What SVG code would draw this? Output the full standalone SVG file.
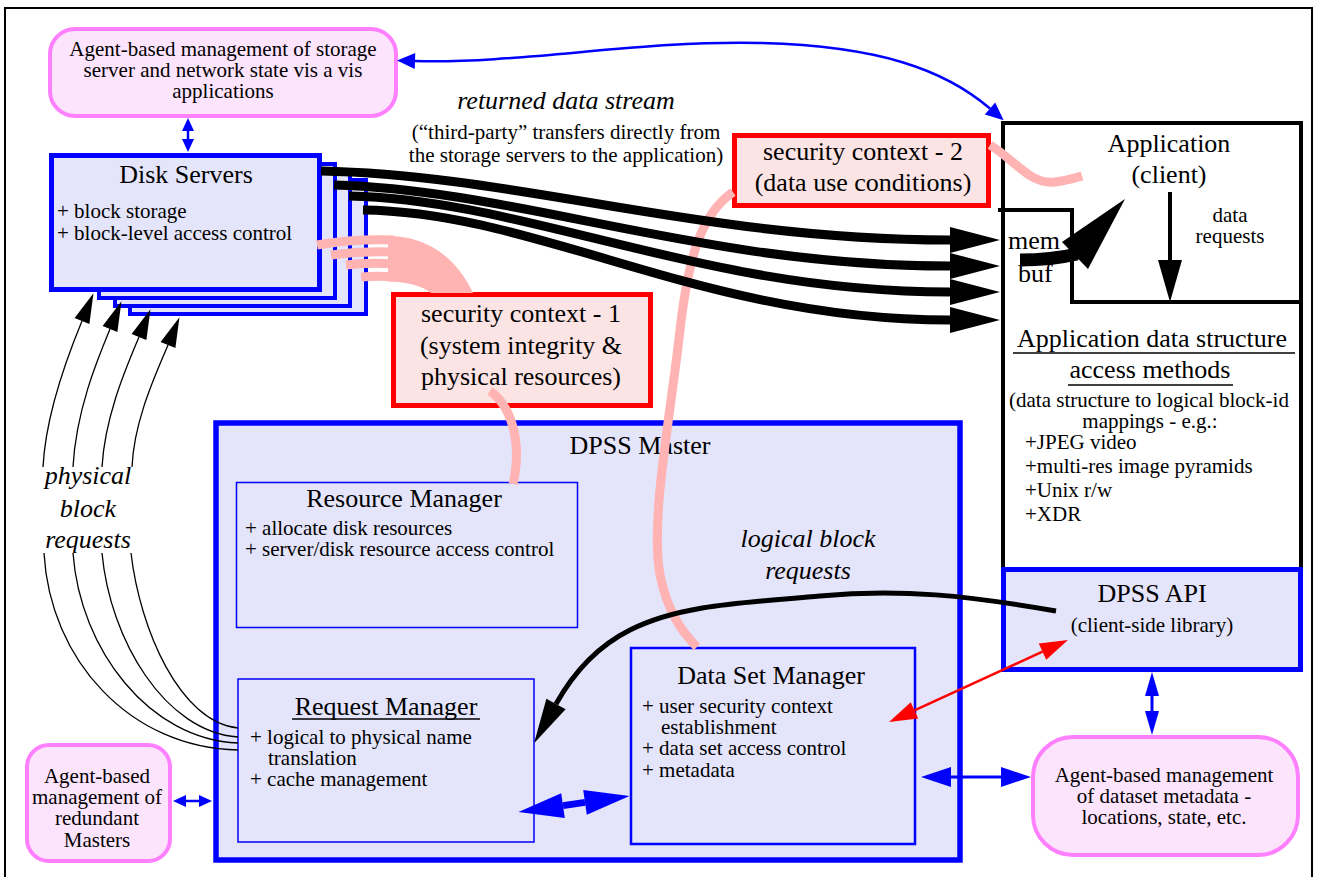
<svg xmlns="http://www.w3.org/2000/svg" width="1319" height="877" viewBox="0 0 1319 877" font-family="Liberation Serif, Times New Roman, serif">
  <style>
    text { fill: #000; }
    .t21 { font-size: 21px; }
    .t26 { font-size: 26px; }
    .it { font-style: italic; }
    .mid { text-anchor: middle; }
    .agent { fill: #fde4fd; stroke: #ff80ff; stroke-width: 4; }
    .blueBox { fill: #e4e4fb; stroke: #0000ff; }
    .redBox { fill: #fde4e4; stroke: #ff0000; stroke-width: 5; }
    .pink { fill: none; stroke: #ffb3b3; stroke-width: 9; stroke-linecap: butt; }
    .pinkFill { fill: #ffb3b3; stroke: none; }
    .stream { fill: none; stroke: #000; stroke-width: 9; }
    .thin { fill: none; stroke: #000; stroke-width: 1.3; }
    .uline { stroke: #000; stroke-width: 1.3; }
  </style>
  <defs>
    <marker id="hStream" markerUnits="userSpaceOnUse" orient="auto" refX="0" refY="0" markerWidth="60" markerHeight="30" overflow="visible">
      <path d="M0,-13 L50,0 L0,13 z" fill="#000"/>
    </marker>
    <marker id="hThin" markerUnits="userSpaceOnUse" orient="auto" refX="0" refY="0" markerWidth="40" markerHeight="20" overflow="visible">
      <path d="M0,-8 L30,0 L0,8 z" fill="#000"/>
    </marker>
    <marker id="hApi" markerUnits="userSpaceOnUse" orient="auto" refX="0" refY="0" markerWidth="50" markerHeight="30" overflow="visible">
      <path d="M0,-11 L45,0 L0,11 z" fill="#000"/>
    </marker>
    <marker id="hRed" markerUnits="userSpaceOnUse" orient="auto-start-reverse" refX="0" refY="0" markerWidth="40" markerHeight="20" overflow="visible">
      <path d="M0,-9 L28,0 L0,9 z" fill="#ff0000"/>
    </marker>
    <marker id="hBlueBig" markerUnits="userSpaceOnUse" orient="auto-start-reverse" refX="0" refY="0" markerWidth="50" markerHeight="30" overflow="visible">
      <path d="M0,-12.5 L45,0 L0,12.5 z" fill="#0000ff"/>
    </marker>
    <marker id="hBlueMd" markerUnits="userSpaceOnUse" orient="auto-start-reverse" refX="0" refY="0" markerWidth="40" markerHeight="20" overflow="visible">
      <path d="M0,-10 L30,0 L0,10 z" fill="#0000ff"/>
    </marker>
    <marker id="hBlueV" markerUnits="userSpaceOnUse" orient="auto-start-reverse" refX="0" refY="0" markerWidth="30" markerHeight="20" overflow="visible">
      <path d="M0,-7 L24,0 L0,7 z" fill="#0000ff"/>
    </marker>
    <marker id="hBlueCurve" markerUnits="userSpaceOnUse" orient="auto-start-reverse" refX="0" refY="0" markerWidth="30" markerHeight="20" overflow="visible">
      <path d="M0,-8 L18,0 L0,8 z" fill="#0000ff"/>
    </marker>
    <marker id="hBlueSm" markerUnits="userSpaceOnUse" orient="auto-start-reverse" refX="0" refY="0" markerWidth="20" markerHeight="14" overflow="visible">
      <path d="M0,-6 L13,0 L0,6 z" fill="#0000ff"/>
    </marker>
  </defs>

  <!-- page frame -->
  <rect x="5" y="8" width="1307" height="880" fill="#fff" stroke="#000" stroke-width="2"/>

  <g id="agent-storage">
    <rect class="agent" x="50" y="29" width="346" height="87" rx="25"/>
    <text class="t21 mid" x="223" y="56">Agent-based management of storage</text>
    <text class="t21 mid" x="223" y="77">server and network state vis a vis</text>
    <text class="t21 mid" x="223" y="98">applications</text>
  </g>

  <g id="disk-servers">
    <rect class="blueBox" stroke-width="4" x="130" y="180" width="236" height="134"/>
    <rect class="blueBox" stroke-width="4" x="115" y="172" width="235" height="134"/>
    <rect class="blueBox" stroke-width="4" x="99" y="164" width="236" height="134"/>
    <rect class="blueBox" stroke-width="5" x="51.5" y="155.5" width="268" height="134"/>
    <text class="t26 mid" x="186" y="183">Disk Servers</text>
    <text class="t21" x="57" y="218">+ block storage</text>
    <text class="t21" x="57" y="240">+ block-level access control</text>
  </g>

  <g id="stream-label">
    <text class="t26 it mid" x="566" y="109">returned data stream</text>
    <text class="t21 mid" x="566" y="139">(“third-party” transfers directly from</text>
    <text class="t21 mid" x="566" y="162">the storage servers to the application)</text>
  </g>

  <g id="security-context-2">
    <rect class="redBox" x="734.5" y="135.5" width="254" height="70"/>
    <text class="t26 mid" x="863" y="160">security context - 2</text>
    <text class="t26 mid" x="863" y="191">(data use conditions)</text>
  </g>

  <g id="security-context-1">
    <rect class="redBox" x="393.5" y="294.5" width="257" height="111"/>
    <text class="t26 mid" x="521" y="322">security context - 1</text>
    <text class="t26 mid" x="521" y="354">(system integrity &amp;</text>
    <text class="t26 mid" x="521" y="385">physical resources)</text>
  </g>

  <g id="dpss-master">
    <rect class="blueBox" stroke-width="5.5" x="216" y="423" width="744" height="437"/>
    <text class="t26 mid" x="640" y="454">DPSS Master</text>
    <text class="t26 it mid" x="808" y="547">logical block</text>
    <text class="t26 it mid" x="808" y="579">requests</text>
  </g>

  <g id="resource-manager">
    <rect class="blueBox" stroke-width="1.5" x="236.5" y="482.5" width="341" height="145"/>
    <text class="t26 mid" x="404" y="507">Resource Manager</text>
    <text class="t21" x="245" y="535">+ allocate disk resources</text>
    <text class="t21" x="245" y="556">+ server/disk resource access control</text>
  </g>

  <g id="request-manager">
    <rect class="blueBox" stroke-width="1.5" x="238" y="679" width="296" height="163"/>
    <text class="t26 mid" x="386" y="715">Request Manager</text>
    <line class="uline" x1="292" y1="719" x2="480" y2="719"/>
    <text class="t21" x="250" y="744">+ logical to physical name</text>
    <text class="t21" x="268" y="765">translation</text>
    <text class="t21" x="250" y="786">+ cache management</text>
  </g>

  <g id="data-set-manager">
    <rect class="blueBox" stroke-width="2.5" x="631" y="648" width="284" height="196"/>
    <text class="t26 mid" x="771" y="684">Data Set Manager</text>
    <text class="t21" x="642" y="713">+ user security context</text>
    <text class="t21" x="661" y="734">establishment</text>
    <text class="t21" x="642" y="755">+ data set access control</text>
    <text class="t21" x="642" y="777">+ metadata</text>
  </g>

  <g id="application">
    <rect x="1003" y="123" width="298" height="450" fill="#fff" stroke="#000" stroke-width="4"/>
    <polyline points="998,210 1072,210 1072,302 1301,302" fill="none" stroke="#000" stroke-width="4"/>
    <text class="t26 mid" x="1169" y="152">Application</text>
    <text class="t26 mid" x="1169" y="183">(client)</text>
    <text class="t21 mid" x="1230" y="222">data</text>
    <text class="t21 mid" x="1230" y="243">requests</text>
    <text class="t26" x="1008" y="249">mem</text>
    <text class="t26" x="1018" y="282">buf</text>
    <text class="t26 mid" x="1152" y="347">Application data structure</text>
    <line class="uline" x1="1013" y1="353" x2="1295" y2="353"/>
    <text class="t26 mid" x="1150" y="378">access methods</text>
    <line class="uline" x1="1068" y1="385" x2="1233" y2="385"/>
    <text class="t21 mid" x="1149" y="407">(data structure to logical block-id</text>
    <text class="t21 mid" x="1150" y="428">mappings - e.g.:</text>
    <text class="t21" x="1025" y="449">+JPEG video</text>
    <text class="t21" x="1025" y="473">+multi-res image pyramids</text>
    <text class="t21" x="1025" y="497">+Unix r/w</text>
    <text class="t21" x="1025" y="521">+XDR</text>
  </g>

  <g id="dpss-api">
    <rect class="blueBox" stroke-width="5" x="1003.5" y="569.5" width="297" height="100"/>
    <text class="t26 mid" x="1152" y="602">DPSS API</text>
    <text class="t21 mid" x="1152" y="632">(client-side library)</text>
  </g>

  <g id="agent-masters">
    <rect class="agent" x="27" y="745" width="143" height="116" rx="22"/>
    <text class="t21 mid" x="97" y="783">Agent-based</text>
    <text class="t21 mid" x="97" y="804">management of</text>
    <text class="t21 mid" x="97" y="825">redundant</text>
    <text class="t21 mid" x="97" y="847">Masters</text>
  </g>

  <g id="agent-metadata">
    <rect class="agent" x="1033" y="737" width="265" height="118" rx="40"/>
    <text class="t21 mid" x="1164" y="782">Agent-based management</text>
    <text class="t21 mid" x="1164" y="803">of dataset metadata -</text>
    <text class="t21 mid" x="1164" y="824">locations, state, etc.</text>
  </g>

  <g id="physical-label">
    <text class="t26 it mid" x="88" y="484">physical</text>
    <text class="t26 it mid" x="88" y="517">block</text>
    <text class="t26 it mid" x="88" y="548">requests</text>
  </g>

  <g id="connectors">
    <!-- storage agent <-> application -->
    <path d="M415 61 C 520 64, 640 40, 760 43 C 880 46, 945 70, 990 108.5" fill="none" stroke="#0000ff" stroke-width="2.5" marker-start="url(#hBlueCurve)" marker-end="url(#hBlueCurve)"/>
    <!-- storage agent <-> disk servers -->
    <line x1="188" y1="131" x2="188" y2="139" stroke="#0000ff" stroke-width="2.5" marker-start="url(#hBlueSm)" marker-end="url(#hBlueSm)"/>

    <!-- security context 1: strands from each disk server merging into one band -->
    <path class="pink" d="M317 245 C 340 241, 365 239, 394 240"/>
    <path class="pink" d="M331 255 C 352 252, 372 251, 394 252"/>
    <path class="pink" d="M346 265 C 362 263, 378 263, 394 264"/>
    <path class="pink" d="M361 277 C 372 276, 383 276, 394 277"/>
    <path class="pinkFill" d="M388 236 C 425 236, 456 256, 473 293 L 431 293 C 422 286, 408 282, 388 281.5 Z"/>
    <path class="pink" d="M490 391 C 510 405, 523 440, 513 484"/>
    <!-- security context 2 -->
    <path class="pink" d="M733 192 C 700 215, 688 260, 680 330 C 670 420, 650 520, 660 575 C 668 615, 685 635, 697 647"/>
    <path class="pink" d="M990 145 C 1015 160, 1030 185, 1055 182 C 1065 181, 1075 178, 1082 176"/>

    <!-- returned data stream -->
    <path class="stream" d="M321 171 C 520 175, 700 240, 950 240" marker-end="url(#hStream)"/>
    <path class="stream" d="M334 185 C 520 190, 700 266, 950 266" marker-end="url(#hStream)"/>
    <path class="stream" d="M349 196 C 530 200, 700 292, 950 292" marker-end="url(#hStream)"/>
    <path class="stream" d="M363 210 C 540 212, 700 320, 950 320" marker-end="url(#hStream)"/>

    <!-- mem buf to application -->
    <path d="M1020 260 C 1045 260, 1060 258, 1077 254" fill="none" stroke="#000" stroke-width="13"/>
    <polygon points="1125,199 1062,242 1088,269" fill="#000"/>
    <!-- data requests -->
    <line x1="1170" y1="192" x2="1170" y2="261" stroke="#000" stroke-width="4"/>
    <polygon points="1170,302 1158,260 1182,260" fill="#000"/>

    <!-- physical block requests -->
    <path class="thin" d="M43 467 C 46 410, 70 350, 82 321" marker-end="url(#hThin)"/>
    <path class="thin" d="M73 467 C 76 410, 98 358, 110 329" marker-end="url(#hThin)"/>
    <path class="thin" d="M102 467 C 105 415, 127 366, 139 337" marker-end="url(#hThin)"/>
    <path class="thin" d="M132 467 C 134 420, 156 374, 168 345" marker-end="url(#hThin)"/>
    <path class="thin" d="M44 553 C 50 660, 130 748, 238 750"/>
    <path class="thin" d="M73 553 C 80 650, 150 740, 238 743"/>
    <path class="thin" d="M102 553 C 110 640, 165 732, 238 737"/>
    <path class="thin" d="M131 553 C 140 630, 180 722, 238 728"/>

    <!-- logical block requests -->
    <path d="M1056 611 C 970 596, 900 588, 820 596 C 740 603, 680 605, 630 630 C 600 645, 575 670, 556 704" fill="none" stroke="#000" stroke-width="5" marker-end="url(#hApi)"/>

    <!-- api <-> data set manager -->
    <line x1="914.5" y1="710.4" x2="1042.5" y2="651.6" stroke="#ff0000" stroke-width="2.5" marker-start="url(#hRed)" marker-end="url(#hRed)"/>
    <!-- request manager <-> data set manager -->
    <line x1="563" y1="805.6" x2="585" y2="802.4" stroke="#0000ff" stroke-width="7" marker-start="url(#hBlueBig)" marker-end="url(#hBlueBig)"/>
    <!-- data set manager <-> metadata agent -->
    <line x1="951" y1="777" x2="1001" y2="777" stroke="#0000ff" stroke-width="3" marker-start="url(#hBlueMd)" marker-end="url(#hBlueMd)"/>
    <!-- api <-> metadata agent -->
    <line x1="1152" y1="696" x2="1152" y2="711" stroke="#0000ff" stroke-width="3" marker-start="url(#hBlueV)" marker-end="url(#hBlueV)"/>
    <!-- masters agent <-> request manager -->
    <line x1="186" y1="801" x2="199" y2="801" stroke="#0000ff" stroke-width="2.5" marker-start="url(#hBlueSm)" marker-end="url(#hBlueSm)"/>
  </g>
</svg>
